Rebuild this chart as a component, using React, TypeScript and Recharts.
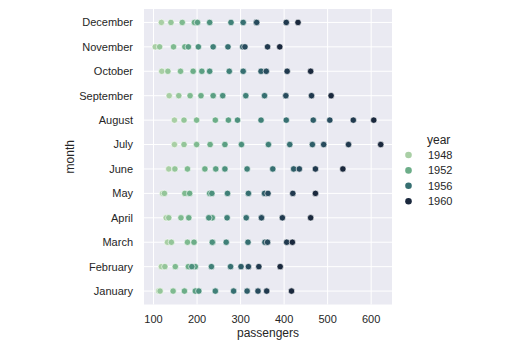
import React from 'react';
import { ScatterChart, Scatter, XAxis, YAxis, CartesianGrid } from 'recharts';

const months = ['January', 'February', 'March', 'April', 'May', 'June', 'July', 'August', 'September', 'October', 'November', 'December'];
const years = [1949, 1950, 1951, 1952, 1953, 1954, 1955, 1956, 1957, 1958, 1959, 1960];

const p1949 = [112, 118, 132, 129, 121, 135, 148, 148, 136, 119, 104, 118];
const p1950 = [115, 126, 141, 135, 125, 149, 170, 170, 158, 133, 114, 140];
const p1951 = [145, 150, 178, 163, 172, 178, 199, 199, 184, 162, 146, 166];
const p1952 = [171, 180, 193, 181, 183, 218, 230, 242, 209, 191, 172, 194];
const p1953 = [196, 196, 236, 235, 229, 243, 264, 272, 237, 211, 180, 201];
const p1954 = [204, 188, 235, 227, 234, 264, 302, 293, 259, 229, 203, 229];
const p1955 = [242, 233, 267, 269, 270, 315, 364, 347, 312, 274, 237, 278];
const p1956 = [284, 277, 317, 313, 318, 374, 413, 405, 355, 306, 271, 306];
const p1957 = [315, 301, 356, 348, 355, 422, 465, 467, 404, 347, 305, 336];
const p1958 = [340, 318, 362, 348, 363, 435, 491, 505, 404, 359, 310, 337];
const p1959 = [360, 342, 406, 396, 420, 472, 548, 559, 463, 407, 362, 405];
const p1960 = [417, 391, 419, 461, 472, 535, 622, 606, 508, 461, 390, 432];

const passengersByYear = [p1949, p1950, p1951, p1952, p1953, p1954, p1955, p1956, p1957, p1958, p1959, p1960];

const xTicks = [100, 200, 300, 400, 500, 600];
const yTicks = [0, 1, 2, 3, 4, 5, 6, 7, 8, 9, 10, 11];
const legendYears = [1948, 1952, 1956, 1960];

function cubehelix(t: number): string {
  const light = 0.75, dark = 0.15, start = 0, rot = -0.5, hue = 0.8;
  const x = light + (dark - light) * t;
  const phi = 2 * Math.PI * (start / 3 + rot * x);
  const a = (hue * x * (1 - x)) / 2;
  const c = Math.cos(phi), s = Math.sin(phi);
  const clip = (v: number) => Math.round(Math.min(1, Math.max(0, v)) * 255);
  const r = x + a * (-0.14861 * c + 1.78277 * s);
  const g = x + a * (-0.29227 * c - 0.90649 * s);
  const b = x + a * (1.97294 * c);
  return `rgb(${clip(r)},${clip(g)},${clip(b)})`;
}

const colorForYear = (y: number) => cubehelix(Math.min(1, Math.max(0, (y - 1949) / 11)));

const FONT = '"Liberation Sans", Arial, sans-serif';
const TEXT = '#262626';

const Dot = (props: any) => (
  <circle cx={props.cx} cy={props.cy} r={3.2} fill={props.fill} stroke="#ffffff" strokeWidth={0.6} />
);

export default function App() {
  return (
    <div style={{ position: 'absolute', left: 0, top: 0, width: 532, height: 355, background: '#fff' }}>
      <ScatterChart width={532} height={355} margin={{ top: 9, right: 140, bottom: 0, left: 0 }}>
        <CartesianGrid fill="#EAEAF2" stroke="#ffffff" strokeWidth={1} horizontalValues={yTicks} verticalValues={xTicks} />
        <XAxis
          type="number"
          dataKey="x"
          domain={[78.1, 647.9]}
          ticks={xTicks}
          height={50.5}
          tickSize={0}
          tickMargin={11}
          axisLine={false}
          tickLine={false}
          tick={{ fontSize: 11, fill: TEXT, fontFamily: FONT }}
          label={{ value: 'passengers', position: 'insideBottom', offset: 18, fontSize: 12, fill: TEXT, fontFamily: FONT }}
        />
        <YAxis
          type="number"
          dataKey="y"
          domain={[-0.55, 11.55]}
          ticks={yTicks}
          width={144}
          tickSize={0}
          tickMargin={11}
          axisLine={false}
          tickLine={false}
          interval={0}
          tickFormatter={(v: number) => months[v]}
          tick={{ fontSize: 11, fill: TEXT, fontFamily: FONT }}
          label={{ value: 'month', position: 'center', angle: -90, dx: -2, fontSize: 12, fill: TEXT, fontFamily: FONT }}
        />
        {years.map((yr, i) => (
          <Scatter
            key={yr}
            data={passengersByYear[i].map((v, m) => ({ x: v, y: m }))}
            fill={colorForYear(yr)}
            shape={Dot}
            isAnimationActive={false}
          />
        ))}
      </ScatterChart>
      <svg width={532} height={355} style={{ position: 'absolute', left: 0, top: 0, pointerEvents: 'none' }}>
        <text x={427} y={144} fontSize={12} fill={TEXT} fontFamily={FONT}>year</text>
        {legendYears.map((yr, i) => {
          const cy = 155 + i * 15.4;
          return (
            <g key={yr}>
              <circle cx={408.5} cy={cy} r={3.3} fill={colorForYear(yr)} />
              <text x={428} y={cy + 4} fontSize={11} fill={TEXT} fontFamily={FONT}>{yr}</text>
            </g>
          );
        })}
      </svg>
    </div>
  );
}
